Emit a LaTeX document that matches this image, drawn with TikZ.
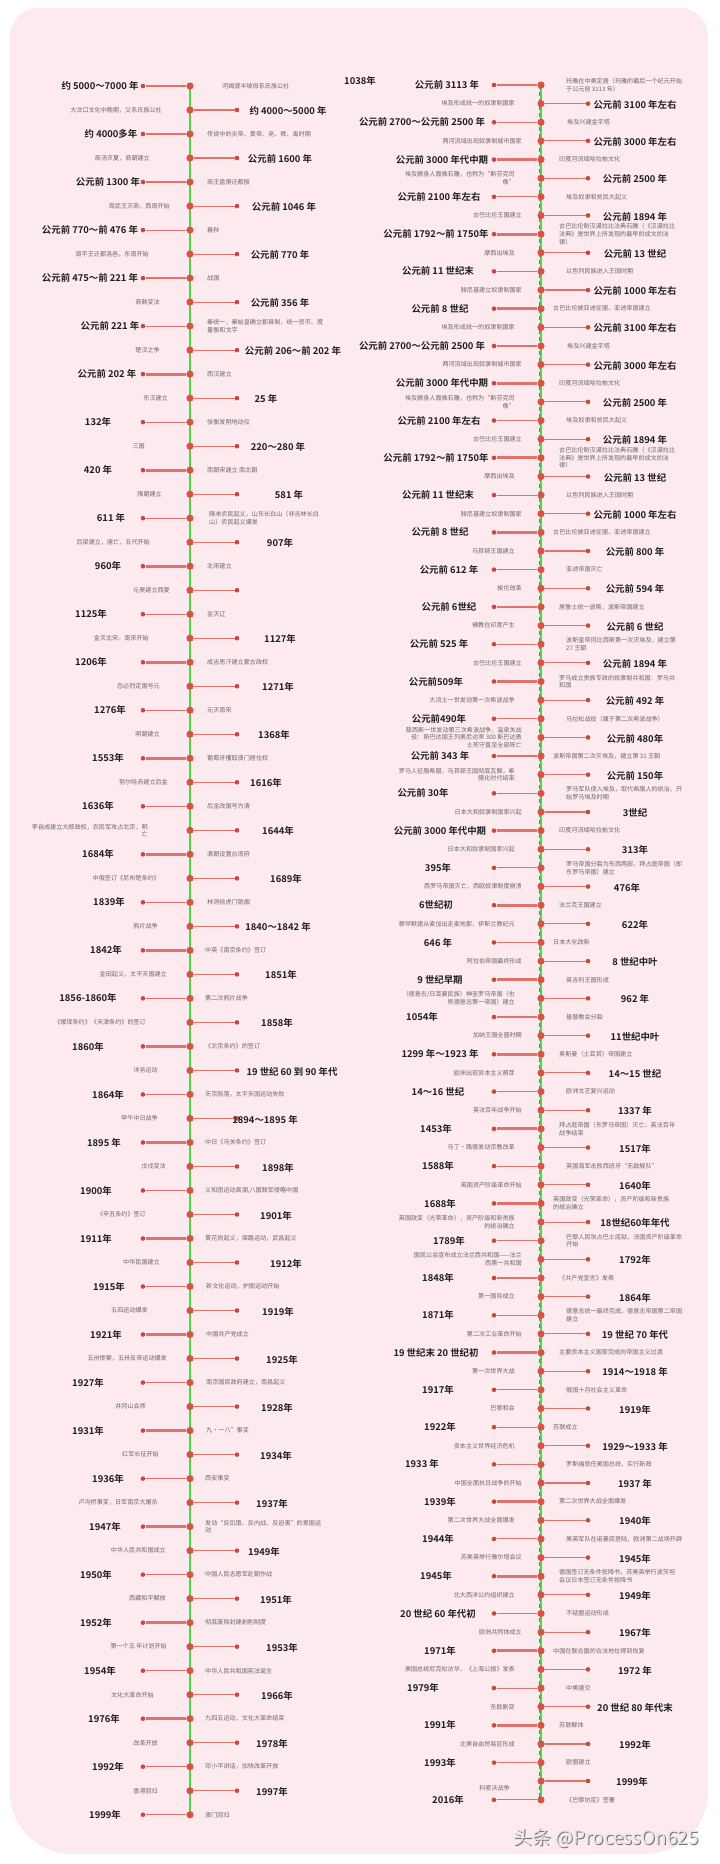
\documentclass[tikz,border=0pt]{standalone}
\usepackage{fontspec}
\setmainfont{Noto Sans CJK SC}[BoldFont={Noto Sans CJK SC Bold}]
\usetikzlibrary{backgrounds}

\definecolor{bgpink}{HTML}{FCEAEE}
\definecolor{axisgreen}{HTML}{4FD24F}
\definecolor{dotred}{HTML}{DA5245}
\definecolor{stemred}{HTML}{E0716B}
\definecolor{datecol}{HTML}{1E1E1E}
\definecolor{desccol}{HTML}{6C6666}

% one event, year on the left side of the axis
\newcommand{\evL}[6]{%
  \node[bigdot] (\colp#1) at (\axisx,{\rowtop+(#1-1)*\rowgap}) {};
  \node[smalldot] (\colp#1e) at ({\axisx-47},{\rowtop+(#1-1)*\rowgap}) {};
  \draw[stemline,line width=#2pt] (\colp#1e) -- (\colp#1);
  \node[datetxt] (\colp#1d) at (#3,{\rowtop+(#1-1)*\rowgap}) {#4};
  \node[desctxt,anchor=west,align=left] (\colp#1t) at (#5,{\rowtop+(#1-1)*\rowgap}) {#6};
}
% one event, year on the right side of the axis
\newcommand{\evR}[6]{%
  \node[bigdot] (\colp#1) at (\axisx,{\rowtop+(#1-1)*\rowgap}) {};
  \node[smalldot] (\colp#1e) at ({\axisx+47},{\rowtop+(#1-1)*\rowgap}) {};
  \draw[stemline,line width=#2pt] (\colp#1) -- (\colp#1e);
  \node[datetxt] (\colp#1d) at (#3,{\rowtop+(#1-1)*\rowgap+1}) {#4};
  \node[desctxt,anchor=east,align=right] (\colp#1t) at (#5,{\rowtop+(#1-1)*\rowgap}) {#6};
}

\begin{document}
\begin{tikzpicture}[x=1pt,y=-1pt,
  bigdot/.style={circle,fill=dotred,inner sep=0pt,minimum size=7.2pt},
  smalldot/.style={circle,fill=dotred!90!black,inner sep=0pt,minimum size=4.6pt},
  stemline/.style={draw=stemred},
  axisline/.style={draw=axisgreen,line width=1.9pt},
  datetxt/.style={inner sep=0pt,text=datecol,font=\bfseries\fontsize{9.4}{11}\selectfont},
  desctxt/.style={inner sep=0pt,text=desccol,font=\fontsize{6.1}{7.6}\selectfont}]
\useasboundingbox (0,0) rectangle (720,1864);

%% left column: China
\def\colp{a}\def\axisx{190}\def\rowtop{86}\def\rowgap{24.01}
\evL{1}{1.1}{100}{约 5000～7000 年}{222}{河姆渡半坡母系氏族公社}
\evR{2}{1.1}{288}{约 4000～5000 年}{162}{大汶口文化中晚期，父系氏族公社}
\evL{3}{1.1}{111}{约 4000多年}{207}{传说中的炎帝、黄帝、尧、舜、禹时期}
\evR{4}{1.1}{280}{公元前 1600 年}{150}{商汤灭夏，商朝建立}
\evL{5}{2.8}{108}{公元前 1300 年}{207}{商王盘庚迁都殷}
\evR{6}{1.1}{284}{公元前 1046 年}{170}{周武王灭商，西周开始}
\evL{7}{1.1}{90}{公元前 770～前 476 年}{207}{春秋}
\evR{8}{1.1}{280}{公元前 770 年}{149}{周平王迁都洛邑，东周开始}
\evL{9}{2.8}{90}{公元前 475～前 221 年}{207}{战国}
\evR{10}{1.1}{280}{公元前 356 年}{160}{商鞅变法}
\evL{11}{1.1}{110}{公元前 221 年}{207}{秦统一，秦始皇确立郡县制，统一货币、度\\量衡和文字}
\evR{12}{1.1}{293}{公元前 206～前 202 年}{160}{楚汉之争}
\evL{13}{2.8}{107}{公元前 202 年}{207}{西汉建立}
\evR{14}{1.1}{266}{25 年}{168}{东汉建立}
\evL{15}{1.1}{98}{132年}{207}{张衡发明地动仪}
\evR{16}{1.1}{278}{220～280 年}{145}{三国}
\evL{17}{2.8}{98}{420 年}{207}{南朝宋建立 南北朝}
\evR{18}{1.1}{289}{581 年}{162}{隋朝建立}
\evL{19}{1.1}{111}{611 年}{209}{隋末农民起义，山东长白山（非吉林长白\\山）农民起义爆发}
\evR{20}{1.1}{280}{907年}{150}{后梁建立，唐亡，五代开始}
\evL{21}{2.8}{108}{960年}{207}{北宋建立}
\evR{22}{1.1}{280}{}{170}{元昊建立西夏}
\evL{23}{1.1}{91}{1125年}{207}{金灭辽}
\evR{24}{1.1}{280}{1127年}{149}{金灭北宋，南宋开始}
\evL{25}{2.8}{91}{1206年}{207}{成吉思汗建立蒙古政权}
\evR{26}{1.1}{278}{1271年}{160}{忽必烈定国号元}
\evL{27}{1.1}{110}{1276年}{207}{元灭南宋}
\evR{28}{1.1}{274}{1368年}{160}{明朝建立}
\evL{29}{2.8}{108}{1553年}{207}{葡萄牙攫取澳门居住权}
\evR{30}{1.1}{266}{1616年}{168}{努尔哈赤建立后金}
\evL{31}{1.1}{98}{1636年}{207}{后金改国号为清}
\evR{32}{1.1}{278}{1644年}{148}{李自成建立大顺政权，农民军攻占北京，明\\亡}
\evL{33}{2.8}{98}{1684年}{207}{清朝设置台湾府}
\evR{34}{1.1}{286}{1689年}{160}{中俄签订《尼布楚条约》}
\evL{35}{1.1}{109}{1839年}{207}{林则徐虎门销烟}
\evR{36}{1.1}{278}{1840～1842 年}{158}{鸦片战争}
\evL{37}{2.8}{106}{1842年}{205}{中英《南京条约》签订}
\evR{38}{1.1}{281}{1851年}{167}{金田起义，太平天国建立}
\evL{39}{1.1}{88}{1856-1860年}{205}{第二次鸦片战争}
\evR{40}{1.1}{277}{1858年}{146}{《瑷珲条约》《天津条约》的签订}
\evL{41}{2.8}{88}{1860年}{205}{《北京条约》的签订}
\evR{42}{1.1}{292}{19 世纪 60 到 90 年代}{158}{洋务运动}
\evL{43}{1.1}{108}{1864年}{205}{天京陷落，太平天国运动失败}
\evR{44}{1.1}{265}{1894～1895 年}{158}{甲午中日战争}
\evL{45}{2.8}{104}{1895 年}{205}{中日《马关条约》签订}
\evR{46}{1.1}{278}{1898年}{166}{戊戌变法}
\evL{47}{1.1}{96}{1900年}{205}{义和团运动高潮,八国联军侵略中国}
\evR{48}{1.1}{276}{1901年}{146}{《辛丑条约》签订}
\evL{49}{2.8}{96}{1911年}{205}{黄花岗起义，保路运动，武昌起义}
\evR{50}{1.1}{286}{1912年}{160}{中华民国建立}
\evL{51}{1.1}{109}{1915年}{206}{新文化运动，护国运动开始}
\evR{52}{1.1}{278}{1919年}{148}{五四运动爆发}
\evL{53}{2.8}{106}{1921年}{206}{中国共产党成立}
\evR{54}{1.1}{282}{1925年}{167}{五卅惨案，五卅反帝运动爆发}
\evL{55}{1.1}{88}{1927年}{206}{南京国民政府建立，南昌起义}
\evR{56}{1.1}{277}{1928年}{146}{井冈山会师}
\evL{57}{2.8}{88}{1931年}{206}{九•一八”事变}
\evR{58}{1.1}{276}{1934年}{159}{红军长征开始}
\evL{59}{1.1}{108}{1936年}{205}{西安事变}
\evR{60}{1.1}{272}{1937年}{158}{卢沟桥事变，日军南京大屠杀}
\evL{61}{2.8}{105}{1947年}{205}{发动“反饥饿、反内战、反迫害”的爱国运\\动}
\evR{62}{1.1}{264}{1949年}{166}{中华人民共和国成立}
\evL{63}{1.1}{96}{1950年}{205}{中国人民志愿军赴朝作战}
\evR{64}{1.1}{276}{1951年}{166}{西藏和平解放}
\evL{65}{2.8}{96}{1952年}{205}{彻底废除封建剥削制度}
\evR{66}{1.1}{282}{1953年}{167}{第一个五 年计划开始}
\evL{67}{1.1}{100}{1954年}{205}{中华人民共和国宪法诞生}
\evR{68}{1.1}{277}{1966年}{154}{文化大革命开始}
\evL{69}{2.8}{104}{1976年}{205}{九四五运动，文化大革命结束}
\evR{70}{1.1}{272}{1978年}{158}{改革开放}
\evL{71}{1.1}{108}{1992年}{205}{邓小平讲话，加快改革开放}
\evR{72}{1.1}{272}{1997年}{158}{香港回归}
\evL{73}{1.1}{105}{1999年}{205}{澳门回归}

%% right column: world
\def\colp{b}\def\axisx{541}\def\rowtop{85}\def\rowgap{18.64}
\evL{1}{1.1}{447}{公元前 3113 年}{566}{玛雅在中美定居（玛雅的最后一个纪元开始\\于公元前 3113 年）}
\evR{2}{1.1}{635}{公元前 3100 年左右}{515}{埃及形成统一的奴隶制国家}
\evL{3}{1.1}{422}{公元前 2700～公元前 2500 年}{567}{埃及兴建金字塔}
\evR{4}{1.1}{635}{公元前 3000 年左右}{522}{两河流域出现奴隶制城市国家}
\evL{5}{2.8}{442}{公元前 3000 年代中期}{559}{印度河流域哈拉帕文化}
\evR{6}{1.1}{635}{公元前 2500 年}{515}{埃及狮身人面像石雕，也称为“斯芬克司\\像”}
\evL{7}{1.1}{439}{公元前 2100 年左右}{566}{埃及奴隶和贫民大起义}
\evR{8}{1.1}{635}{公元前 1894 年}{522}{古巴比伦王国建立}
\evL{9}{2.8}{436}{公元前 1792～前 1750年}{559}{古巴比伦制汉谟拉比法典石雕（《汉谟拉比\\法典》是世界上所发现的最早的成文的法\\律）}
\evR{10}{1.1}{635}{公元前 13 世纪}{515}{摩西出埃及}
\evL{11}{1.1}{438}{公元前 11 世纪末}{566}{以色列民族进入王国时期}
\evR{12}{1.1}{635}{公元前 1000 年左右}{522}{腓尼基建立奴隶制国家}
\evL{13}{2.8}{440}{公元前 8 世纪}{553}{古巴比伦被亚述征服，亚述帝国建立}
\evR{14}{1.1}{635}{公元前 3100 年左右}{515}{埃及形成统一的奴隶制国家}
\evL{15}{1.1}{422}{公元前 2700～公元前 2500 年}{567}{埃及兴建金字塔}
\evR{16}{1.1}{635}{公元前 3000 年左右}{522}{两河流域出现奴隶制城市国家}
\evL{17}{2.8}{442}{公元前 3000 年代中期}{559}{印度河流域哈拉帕文化}
\evR{18}{1.1}{635}{公元前 2500 年}{515}{埃及狮身人面像石雕，也称为“斯芬克司\\像”}
\evL{19}{1.1}{439}{公元前 2100 年左右}{566}{埃及奴隶和贫民大起义}
\evR{20}{1.1}{635}{公元前 1894 年}{522}{古巴比伦王国建立}
\evL{21}{2.8}{436}{公元前 1792～前 1750年}{559}{古巴比伦制汉谟拉比法典石雕（《汉谟拉比\\法典》是世界上所发现的最早的成文的法\\律）}
\evR{22}{1.1}{635}{公元前 13 世纪}{515}{摩西出埃及}
\evL{23}{1.1}{438}{公元前 11 世纪末}{566}{以色列民族进入王国时期}
\evR{24}{1.1}{635}{公元前 1000 年左右}{522}{腓尼基建立奴隶制国家}
\evL{25}{2.8}{440}{公元前 8 世纪}{553}{古巴比伦被亚述征服，亚述帝国建立}
\evR{26}{1.1}{635}{公元前 800 年}{515}{马其顿王国建立}
\evL{27}{1.1}{449}{公元前 612 年}{566}{亚述帝国灭亡}
\evR{28}{1.1}{635}{公元前 594 年}{522}{梭伦改革}
\evL{29}{2.8}{449}{公元前 6世纪}{559}{居鲁士统一波斯，波斯帝国建立}
\evR{30}{1.1}{635}{公元前 6 世纪}{515}{佛教在印度产生}
\evL{31}{1.1}{439}{公元前 525 年}{566}{波斯皇帝冈比西斯第一次灭埃及，建立第\\27 王朝}
\evR{32}{1.1}{635}{公元前 1894 年}{522}{古巴比伦王国建立}
\evL{33}{2.8}{436}{公元前509年}{559}{罗马成立贵族专政的奴隶制共和国：罗马共\\和国}
\evR{34}{1.1}{635}{公元前 492 年}{515}{大流士一世发动第一次希波战争}
\evL{35}{1.1}{439}{公元前490年}{566}{马拉松战役（属于第二次希波战争）}
\evR{36}{1.1}{635}{公元前 480年}{522}{薛西斯一世发动第三次希波战争，温泉关战\\役：斯巴达国王列奥尼达率 300 斯巴达勇\\士死守直至全部阵亡}
\evL{37}{2.8}{440}{公元前 343 年}{553}{波斯帝国第二次灭埃及，建立第 31 王朝}
\evR{38}{1.1}{635}{公元前 150年}{515}{罗马人征服希腊，马其顿王国彻底瓦解，希\\腊化时代结束}
\evL{39}{1.1}{423}{公元前 30年}{566}{罗马军队侵入埃及，取代希腊人的统治，开\\始罗马埃及时期}
\evR{40}{1.1}{635}{3世纪}{522}{日本大和奴隶制国家兴起}
\evL{41}{2.8}{440}{公元前 3000 年代中期}{559}{印度河流域哈拉帕文化}
\evR{42}{1.1}{635}{313年}{515}{日本大和奴隶制国家兴起}
\evL{43}{1.1}{438}{395年}{566}{罗马帝国分裂为东西两部，拜占庭帝国（即\\东罗马帝国）建立}
\evR{44}{1.1}{627}{476年}{522}{西罗马帝国灭亡，西欧奴隶制度崩溃}
\evL{45}{2.8}{436}{6世纪初}{559}{法兰克王国建立}
\evR{46}{1.1}{635}{622年}{515}{穆罕默德从麦加出走麦地那，伊斯兰教纪元}
\evL{47}{1.1}{438}{646 年}{553}{日本大化改新}
\evR{48}{1.1}{635}{8 世纪中叶}{522}{阿拉伯帝国最终形成}
\evL{49}{2.8}{440}{9 世纪早期}{566}{英吉利王国形成}
\evR{50}{1.1}{635}{962 年}{515}{（德意志/日耳曼民族）神圣罗马帝国（也\\称德意志第一帝国）建立}
\evL{51}{1.1}{422}{1054年}{566}{基督教会分裂}
\evR{52}{1.1}{635}{11世纪中叶}{522}{加纳王国全盛时期}
\evL{53}{2.8}{440}{1299 年～1923 年}{559}{奥斯曼（土耳其）帝国建立}
\evR{54}{1.1}{635}{14～15 世纪}{515}{欧洲出现资本主义萌芽}
\evL{55}{1.1}{438}{14～16 世纪}{566}{欧洲文艺复兴运动}
\evR{56}{1.1}{635}{1337 年}{522}{英法百年战争开始}
\evL{57}{2.8}{436}{1453年}{559}{拜占庭帝国（东罗马帝国）灭亡，英法百年\\战争结束}
\evR{58}{1.1}{635}{1517年}{515}{马丁•路德发动宗教改革}
\evL{59}{1.1}{438}{1588年}{566}{英国海军击败西班牙“无敌舰队”}
\evR{60}{1.1}{635}{1640年}{522}{英国资产阶级革命开始}
\evL{61}{2.8}{440}{1688年}{553}{英国政变（光荣革命），资产阶级和新贵族\\的统治确立}
\evR{62}{1.1}{635}{18世纪60年年代}{515}{英国政变（光荣革命），资产阶级和新贵族\\的统治确立}
\evL{63}{1.1}{449}{1789年}{566}{巴黎人民攻占巴士底狱，法国资产阶级革命\\开始}
\evR{64}{1.1}{635}{1792年}{522}{国民公会宣布成立法兰西共和国——法兰\\西第一共和国}
\evL{65}{2.8}{438}{1848年}{559}{《共产党宣言》发表}
\evR{66}{1.1}{635}{1864年}{515}{第一国际成立}
\evL{67}{1.1}{438}{1871年}{566}{德意志统一最终完成，德意志帝国第二帝国\\建立}
\evR{68}{1.1}{635}{19 世纪 70 年代}{522}{第二次工业革命开始}
\evL{69}{2.8}{436}{19 世纪末 20 世纪初}{559}{主要资本主义国家完成向帝国主义过渡}
\evR{70}{1.1}{635}{1914～1918 年}{515}{第一次世界大战}
\evL{71}{1.1}{438}{1917年}{566}{俄国十月社会主义革命}
\evR{72}{1.1}{635}{1919年}{515}{巴黎和会}
\evL{73}{1.1}{440}{1922年}{553}{苏联成立}
\evR{74}{1.1}{635}{1929～1933 年}{515}{资本主义世界经济危机}
\evL{75}{1.1}{422}{1933 年}{566}{罗斯福就任美国总统，实行新政}
\evR{76}{1.1}{635}{1937 年}{522}{中国全面抗日战争的开始}
\evL{77}{2.8}{440}{1939年}{559}{第二次世界大战全面爆发}
\evR{78}{1.1}{635}{1940年}{515}{第二次世界大战全面爆发}
\evL{79}{1.1}{438}{1944年}{566}{美英军队在诺曼底登陆，欧洲第二战场开辟}
\evR{80}{1.1}{635}{1945年}{522}{苏美英举行雅尔塔会议}
\evL{81}{2.8}{436}{1945年}{559}{德国签订无条件投降书，苏美英举行波茨坦\\会议日本签订无条件投降书}
\evR{82}{1.1}{635}{1949年}{515}{北大西洋公约组织建立}
\evL{83}{1.1}{438}{20 世纪 60 年代初}{566}{不结盟运动形成}
\evR{84}{1.1}{635}{1967年}{522}{欧洲共同体成立}
\evL{85}{2.8}{440}{1971年}{553}{中国在联合国的合法地位得到恢复}
\evR{86}{1.1}{635}{1972 年}{515}{美国总统尼克松访华，《上海公报》发表}
\evL{87}{1.1}{423}{1979年}{566}{中美建交}
\evR{88}{1.1}{635}{20 世纪 80 年代末}{515}{东欧剧变}
\evL{89}{2.8}{440}{1991年}{559}{苏联解体}
\evR{90}{1.1}{635}{1992年}{515}{北美自由贸易区形成}
\evL{91}{1.1}{440}{1993年}{566}{欧盟建立}
\node[bigdot] (b92) at (541,1781) {};
\node[smalldot] (b92e) at (588,1781) {};
\draw[stemline,line width=1.1pt] (b92) -- (b92e);
\node[datetxt] (b92d) at (632,1782) {1999年};
\node[desctxt,anchor=east] (b92t) at (510,1788) {科索沃战争};
\evL{93}{1.1}{448}{2016年}{566}{《巴黎协定》签署}

% stray year label at the top
\node[datetxt] (stray) at (360,81) {1038年};

% watermark
\node[text=black!55,font=\fontsize{19}{22}\selectfont] (markshade) at (607,1839) {头条 @ProcessOn625};
\node[text=white!80!gray,font=\fontsize{19}{22}\selectfont] (mark) at (606,1838) {头条 @ProcessOn625};

\begin{scope}[on background layer]
  \fill[white] (0,0) rectangle (720,1864);
  \fill[bgpink] (10,500) [rounded corners=28pt] -- (10,8) -- (708,8) -- (708,500)
    [rounded corners=62pt] -- (708,1854) -- (10,1854) -- (10,500) -- cycle;
  \draw[axisline] (a1.center) -- (a73.center);
  \draw[axisline] (b1.center) -- (b93.center);
  \draw[draw=dotred,line width=0.9pt,dash pattern=on 4pt off 3pt] ([xshift=-1.6pt]b1.center) -- ([xshift=-1.6pt]b93.center);
\end{scope}
\end{tikzpicture}
\end{document}
